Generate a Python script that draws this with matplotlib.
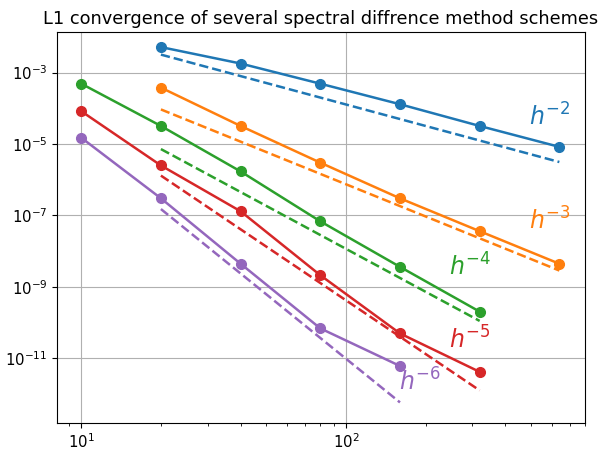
import matplotlib.pyplot as plt

# grid sizes
n_all = [10, 20, 40, 80, 160, 320, 640]

# L1 errors per scheme
err_p2 = [5.2e-3, 1.8e-3, 4.9e-4, 1.3e-4, 3.2e-5, 8.3e-6]
err_p3 = [3.8e-4, 3.2e-5, 3.0e-6, 3.0e-7, 3.6e-8, 4.4e-9]
err_p4 = [4.9e-4, 3.2e-5, 1.7e-6, 6.8e-8, 3.6e-9, 2.0e-10]
err_p5 = [8.3e-5, 2.5e-6, 1.3e-7, 2.1e-9, 4.9e-11, 4.1e-12]
err_p6 = [1.5e-5, 3.0e-7, 4.4e-9, 6.8e-11, 6.0e-12]

# reference slope lines: value at n=20 and order
ref_start = [3.2e-3, 9.3e-5, 7.2e-6, 1.3e-6, 1.5e-7]
ref_order = [2, 3, 4, 5, 6]

schemes = [
    (n_all[1:], err_p2),
    (n_all[1:], err_p3),
    (n_all[:6], err_p4),
    (n_all[:6], err_p5),
    (n_all[:5], err_p6),
]
label_pos = [(490, 3.3e-5), (490, 4.1e-8), (245, 2.0e-9), (245, 1.9e-11), (158, 1.2e-12)]
colors = ['C0', 'C1', 'C2', 'C3', 'C4']

plt.rcParams['font.size'] = 10.7

fig = plt.figure(figsize=(6, 4.5), dpi=100)
ax = fig.add_subplot(111)
for (ns, err), c0, p, col, pos in zip(schemes, ref_start, ref_order, colors, label_pos):
    ax.plot(ns, err, 'o-', color=col, lw=1.8, ms=7)
    ref_n = [n for n in ns if n >= 20]
    ref = [c0 * (20.0 / n) ** p for n in ref_n]
    ax.plot(ref_n, ref, '--', color=col, lw=1.8)
    ax.text(pos[0], pos[1], '$h^{-%d}$' % p, color=col, fontsize=17)

ax.set_xscale('log')
ax.set_yscale('log')
ax.set_xlim(8.1, 800)
ax.set_ylim(10 ** -12.82, 10 ** -1.86)
ax.grid(True)
ax.set_title('L1 convergence of several spectral diffrence method schemes', fontsize=12.8)
fig.subplots_adjust(left=0.095, right=0.975, bottom=0.06, top=0.929)
fig.savefig('out.png')
